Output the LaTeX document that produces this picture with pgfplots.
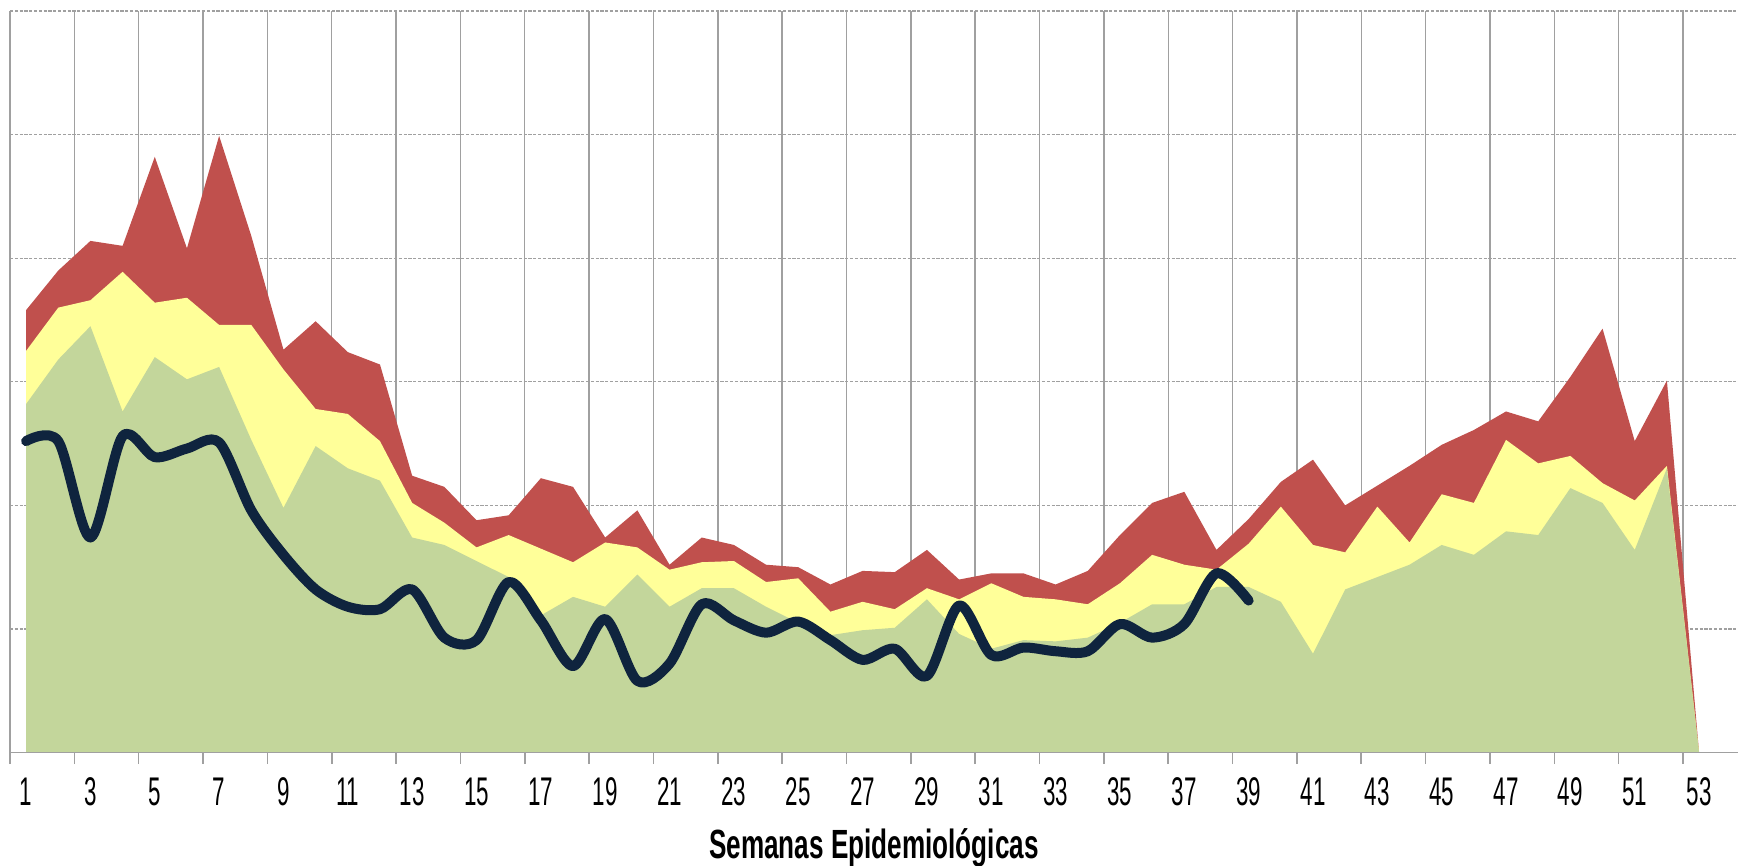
\documentclass[border=0pt]{standalone}
\usepackage{pgfplots}
\pgfplotsset{compat=1.18}
\usepackage{pgfplotstable}
\usepackage{fontspec}
\usetikzlibrary{calc}
\newfontfamily\agency{Liberation Sans}[FakeStretch=0.56]
\newfontfamily\agencyb{Liberation Sans}[FakeStretch=0.64]

\definecolor{zgreen}{HTML}{C3D69B}
\definecolor{zyellow}{HTML}{FFFF99}
\definecolor{zred}{HTML}{C0504D}
\definecolor{znavy}{HTML}{0F243E}
\definecolor{gridgray}{HTML}{A0A0A0}

% upper limit of each zone per week (areas overlap, red drawn first)
\pgfplotstableread{
wk green yellow red
1 282 325 358
2 318 360 390
3 345 366 414
4 276 389 410
5 320 364 482
6 302 368 408
7 312 346 499
8 253 346 418
9 198 310 326
10 248 278 349
11 230 274 324
12 220 252 314
13 174 202 224
14 168 186 215
15 155 166 188
16 142 176 192
17 111 165 222
18 126 154 215
19 118 170 174
20 144 166 196
21 118 148 152
22 133 154 174
23 133 155 168
24 118 138 152
25 105 141 150
26 95 114 136
27 99 122 147
28 101 116 146
29 124 133 164
30 96 124 140
31 84 137 145
32 91 126 145
33 90 124 136
34 93 120 147
35 105 137 176
36 120 160 202
37 120 152 211
38 134 148 164
39 134 169 189
40 122 199 219
41 80 168 237
42 132 162 200
43 142 199 216
44 152 170 232
45 168 209 249
46 160 202 261
47 179 253 276
48 176 234 268
49 214 240 304
50 202 218 343
51 164 204 252
52 230 232 301
53 0 0 0
}\zones

% current year cases
\pgfplotstableread{
wk cases
1 252
2 252
3 174
4 256
5 239
6 246
7 251
8 196
9 160
10 132
11 118
12 116
13 132
14 93
15 91
16 138
17 107
18 70
19 108
20 58
21 72
22 120
23 107
24 97
25 106
26 91
27 75
28 84
29 62
30 119
31 79
32 85
33 82
34 82
35 104
36 93
37 104
38 145
39 123
}\actual

\begin{document}
\begin{tikzpicture}
\begin{axis}[name=ax,
  scale only axis, width=432pt, height=185.4pt,
  xmin=0.5, xmax=54.21, ymin=0, ymax=600,
  axis line style={draw=none},
  xtick={1,3,...,53},
  minor xtick={0.5,2.5,...,52.5},
  xtick pos=left,
  tick align=outside,
  major tick length=0pt,
  minor tick length=2.9pt,
  minor tick style={color=gridgray, line width=0.4pt},
  xmajorgrids=false, xminorgrids=true,
  minor x grid style={color=gridgray, line width=0.35pt, solid},
  ytick={100,200,...,600},
  yticklabels={},
  ytick style={draw=none},
  ymajorgrids=true,
  major y grid style={color=gridgray, line width=0.35pt, dash pattern=on 0.8pt off 0.4pt},
  /pgf/number format/assume math mode=true,
  xticklabel style={font=\agency\fontsize{10}{11}\selectfont, anchor=base, inner sep=0pt, yshift=-13.2pt},
  xlabel={Semanas Epidemiológicas},
  xlabel style={font=\agencyb\bfseries\fontsize{10.2}{11}\selectfont,
    at={(axis description cs:0.5,0)}, anchor=base, inner sep=0pt, yshift=-26.4pt},
]
\addplot[fill=zred, draw=none] table[x=wk, y=red] {\zones} \closedcycle;
\addplot[fill=zyellow, draw=none] table[x=wk, y=yellow] {\zones} \closedcycle;
\addplot[fill=zgreen, draw=none] table[x=wk, y=green] {\zones} \closedcycle;
\addplot[znavy, line width=2.5pt, smooth, tension=0.5, line cap=round, line join=round] table[x=wk, y=cases] {\actual};
\draw[gridgray, line width=0.5pt] (rel axis cs:0,0) -- (rel axis cs:1,0);
\end{axis}
\pgfresetboundingbox
\path[use as bounding box] ($(ax.south west)+(-2.5pt,-28.3pt)$) rectangle ($(ax.north east)+(0pt,2.75pt)$);
\end{tikzpicture}
\end{document}
